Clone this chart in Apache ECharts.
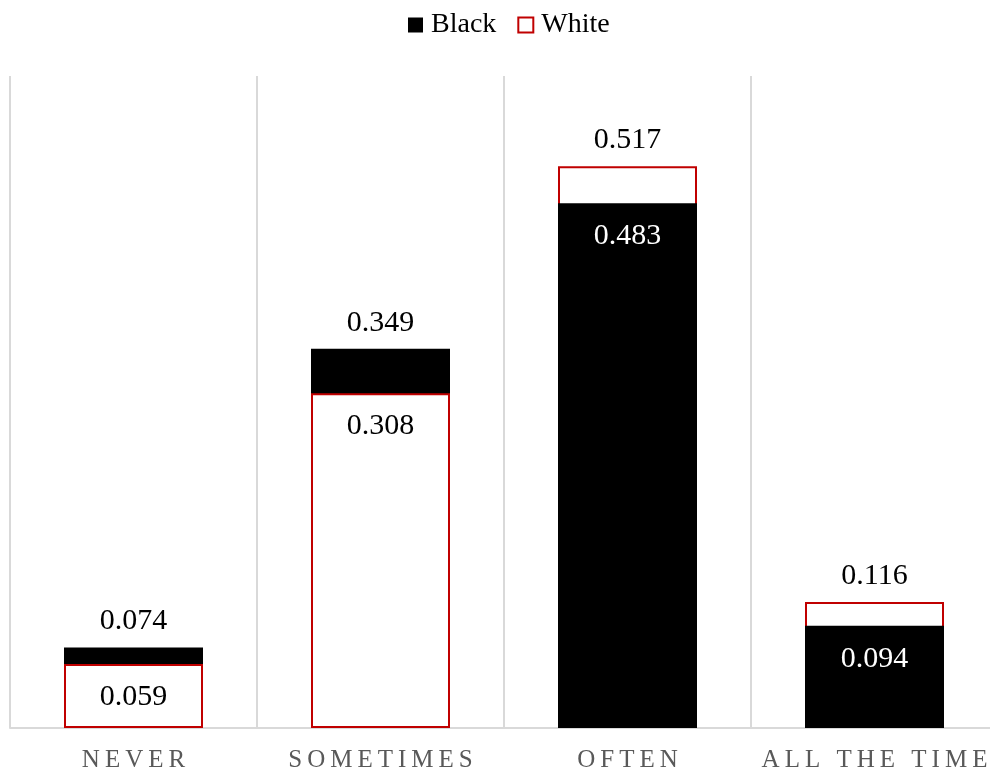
<!DOCTYPE html>
<html>
<head>
<meta charset="utf-8">
<script src="https://cdn.jsdelivr.net/npm/echarts@6/dist/echarts.min.js"></script>
<style>html,body{margin:0;padding:0;background:#fff}#c{width:990px;height:777px}</style>
</head>
<body>
<div id="c"></div>
<script>
const categories = ['NEVER', 'SOMETIMES', 'OFTEN', 'ALL THE TIME'];
const blackValues = [0.074, 0.349, 0.483, 0.094];
const whiteValues = [0.059, 0.308, 0.517, 0.116];

const FONT = '"Liberation Serif", "Times New Roman", serif';
const RED = '#C00000';
const blackStyle = { color: '#000000' };
const whiteStyle = { color: '#ffffff', borderColor: RED, borderWidth: 2 };

function pick(cond, vals) {
  return vals.map((v, i) => cond(i) ? v : '-');
}
const blackBack = pick(i => blackValues[i] >= whiteValues[i], blackValues);
const whiteBack = pick(i => whiteValues[i] > blackValues[i], whiteValues);
const blackFront = pick(i => blackValues[i] < whiteValues[i], blackValues);
const whiteFront = pick(i => whiteValues[i] <= blackValues[i], whiteValues);

const fmt = p => p.value.toFixed(3);
const backLabel = { show: true, position: 'top', distance: 11, fontFamily: FONT, fontSize: 30, color: '#000', formatter: fmt };

const chart = echarts.init(document.getElementById('c'));
chart.setOption({
  animation: false,
  legend: {
    top: 6, left: 403, icon: 'rect', itemWidth: 15, itemHeight: 15, itemGap: 21,
    textStyle: { fontFamily: FONT, fontSize: 28, color: '#000', padding: [0, 0, 0, 3] },
    data: ['Black', 'White']
  },
  grid: { left: 10, width: 988, top: 76, bottom: 49, outerBoundsMode: 'none', containLabel: false },
  xAxis: {
    type: 'category', data: categories,
    axisLine: { lineStyle: { color: '#d9d9d9', width: 2 } },
    axisTick: { show: false },
    splitLine: { show: true, interval: 0, lineStyle: { color: '#d9d9d9', width: 2 } },
    axisLabel: {
      interval: 0, margin: 20, fontFamily: FONT, fontSize: 25, color: '#595959',
      formatter: v => v.split('').join('\u2009')
    }
  },
  yAxis: { type: 'value', min: 0, max: 0.6, show: false, splitLine: { show: false } },
  series: [
    { name: 'Black', type: 'bar', data: blackBack, barWidth: 139, barGap: '-100%', itemStyle: blackStyle, label: backLabel },
    { name: 'White', type: 'bar', data: whiteBack, barWidth: 139, barGap: '-100%', itemStyle: whiteStyle, label: backLabel },
    { name: 'Black', type: 'bar', data: blackFront, barWidth: 139, barGap: '-100%', itemStyle: blackStyle,
      label: { show: true, position: 'insideTop', distance: 18, fontFamily: FONT, fontSize: 30, color: '#fff', formatter: fmt } },
    { name: 'White', type: 'bar', data: whiteFront, barWidth: 139, barGap: '-100%', itemStyle: whiteStyle,
      label: { show: true, position: 'insideTop', distance: 18, fontFamily: FONT, fontSize: 30, color: '#000', formatter: fmt } }
  ]
});
</script>
</body>
</html>
